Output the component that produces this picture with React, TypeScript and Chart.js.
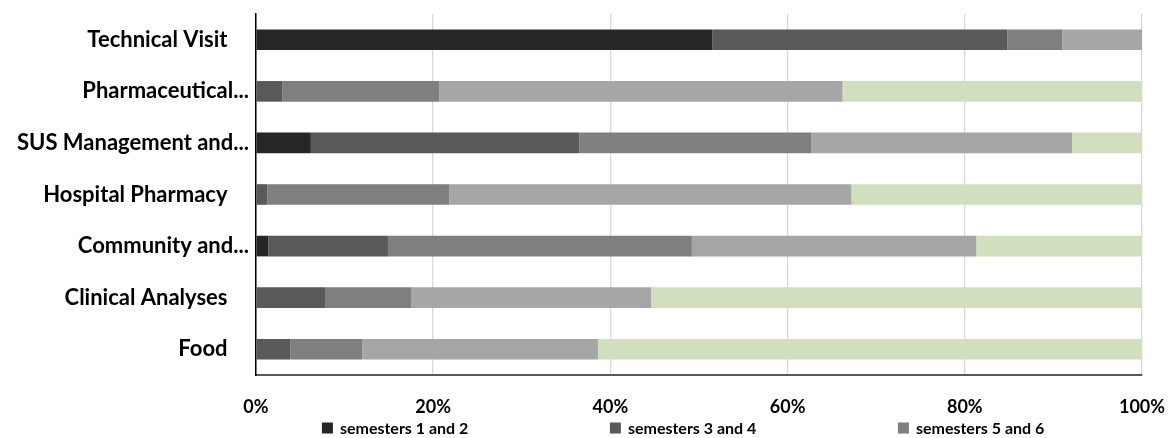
import React, { useEffect, useRef } from "react";
import { Chart, registerables } from "chart.js";

Chart.register(...registerables);

const categories = [
  "Technical Visit",
  "Pharmaceutical...",
  "SUS Management and...",
  "Hospital Pharmacy",
  "Community and...",
  "Clinical Analyses",
  "Food",
];

const seriesNames = [
  "semesters 1 and 2",
  "semesters 3 and 4",
  "semesters 5 and 6",
  "semesters 7 and 8",
  "semesters 9 and 10",
];

const sem12 = [51.5, 0, 6.2, 0, 1.4, 0, 0];
const sem34 = [33.3, 3.0, 30.3, 1.3, 13.5, 7.8, 3.9];
const sem56 = [6.2, 17.7, 26.2, 20.5, 34.3, 9.7, 8.1];
const sem78 = [9.0, 45.5, 29.4, 45.4, 32.1, 27.1, 26.6];
const sem910 = [0, 33.8, 7.9, 32.8, 18.7, 55.4, 61.4];

const xTicks = ["0%", "20%", "40%", "60%", "80%", "100%"];

const colors = ["#262626", "#595959", "#7f7f7f", "#a6a6a6", "#d1dfbf"];
const legendShown = 3;

const FONT = "Lato";

const customLegend = {
  id: "customLegend",
  afterDraw(chart: any) {
    const { ctx, chartArea } = chart;
    const y = chartArea.bottom + 53;
    ctx.save();
    ctx.font = `bold 16px ${FONT}`;
    ctx.textBaseline = "middle";
    ctx.textAlign = "left";
    const start = chartArea.left + 66;
    const step = 288;
    for (let i = 0; i < legendShown; i++) {
      const ds = chart.data.datasets[i];
      const x = start + i * step;
      ctx.fillStyle = ds.backgroundColor;
      ctx.fillRect(x, y - 5.5, 11, 11);
      ctx.fillStyle = "#000";
      ctx.fillText(ds.label, x + 18, y + 1);
    }
    ctx.restore();
  },
};

export default function App() {
  const ref = useRef<HTMLCanvasElement>(null);
  useEffect(() => {
    if (!ref.current) return;
    const series = [sem12, sem34, sem56, sem78, sem910];
    const chart = new Chart(ref.current, {
      type: "bar",
      data: {
        labels: categories,
        datasets: series.map((d, i) => ({
          label: seriesNames[i],
          data: d,
          backgroundColor: colors[i],
          borderWidth: 0,
          barPercentage: 0.4,
          categoryPercentage: 1,
        })),
      },
      options: {
        indexAxis: "y",
        animation: false,
        responsive: true,
        maintainAspectRatio: false,
        layout: { padding: { top: 6, bottom: 20, left: 2, right: 0 } },
        plugins: {
          legend: { display: false },
          tooltip: { enabled: false },
        },
        scales: {
          x: {
            stacked: true,
            min: 0,
            max: 100,
            afterFit: (s: any) => {
              s.paddingLeft = 0;
              s.paddingRight = 23;
              s.height = 43;
            },
            ticks: {
              stepSize: 20,
              padding: 21,
              color: "#000",
              font: { family: FONT, size: 18, weight: "bold" },
              callback: (v: any) => xTicks[Math.round(Number(v) / 20)],
            },
            grid: { color: "#d9d9d9", lineWidth: 1.3, drawTicks: false },
            border: { color: "#595959", width: 2 },
          },
          y: {
            stacked: true,
            afterFit: (s: any) => {
              s.paddingTop = 0;
              s.paddingBottom = 0;
            },
            ticks: {
              padding: 7,
              color: "#000",
              font: { family: FONT, size: 22, weight: "bold" },
              callback: (_v: any, i: number) => {
                const l = categories[i];
                return l.endsWith("...") ? l : l + "    ";
              },
            },
            grid: { display: false, drawTicks: false },
            border: { color: "#000", width: 1.5 },
          },
        },
      },
      plugins: [customLegend],
    });
    return () => chart.destroy();
  }, []);
  return (
    <div style={{ width: 1157, height: 430, position: "relative" }}>
      <canvas ref={ref} />
    </div>
  );
}
